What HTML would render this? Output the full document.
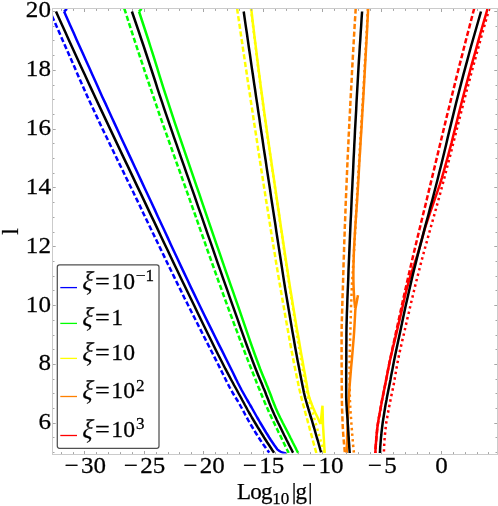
<!DOCTYPE html>
<html><head><meta charset="utf-8"><style>
html,body{margin:0;padding:0;background:#fff;}
svg{display:block;will-change:transform;}
text{font-family:"Liberation Serif",serif;fill:#000;stroke:#000;stroke-width:0.25px;}
</style></head><body>
<svg width="498" height="506" viewBox="0 0 498 506">
<rect width="498" height="506" fill="#fff"/>
<defs><clipPath id="cp"><rect x="52.3" y="8.5" width="445.2" height="445"/></clipPath></defs>
<g clip-path="url(#cp)">
<path d="M52.0 16.0 L55.1 23.0 L58.2 30.1 L61.3 37.1 L64.4 44.2 L67.5 51.2 L70.6 58.3 L73.7 65.3 L76.7 72.3 L79.8 79.4 L82.9 86.4 L86.0 93.5 L89.2 100.5 L92.5 107.5 L95.8 114.6 L99.1 121.6 L102.4 128.7 L105.8 135.7 L109.2 142.8 L112.6 149.8 L116.0 156.8 L119.4 163.9 L122.9 170.9 L126.3 178.0 L129.7 185.0 L133.2 192.0 L136.6 199.1 L140.0 206.1 L143.3 213.2 L146.7 220.2 L150.1 227.3 L153.5 234.3 L156.9 241.3 L160.3 248.4 L163.7 255.4 L167.1 262.5 L170.5 269.5 L174.0 276.6 L177.4 283.6 L180.9 290.6 L184.3 297.7 L187.9 304.7 L191.4 311.8 L195.0 318.8 L198.5 325.8 L202.1 332.9 L205.7 339.9 L209.3 347.0 L212.9 354.0 L216.5 361.1 L220.0 368.1 L223.5 375.1 L225.9 380.0 L227.1 382.5 L228.4 385.0 L229.7 387.5 L231.1 390.0 L232.5 392.5 L234.0 395.0 L235.5 397.5 L237.1 400.0 L238.6 402.5 L240.0 405.0 L241.4 407.5 L242.8 410.0 L244.1 412.5 L245.4 415.0 L246.8 417.5 L248.1 420.0 L249.5 422.5 L251.0 425.0 L252.5 427.5 L254.0 430.0 L255.5 432.5 L257.1 435.0 L258.7 437.5 L260.3 440.0 L262.0 442.5 L263.7 445.0 L265.5 447.5 L267.3 450.0 L269.2 452.5 L269.3 452.6" stroke="#0000ff" stroke-width="2.50" fill="none" stroke-linejoin="round" stroke-dasharray="5.2 2.5" stroke-dashoffset="0.00"/>
<path d="M64.1 11.6 L67.3 18.7 L70.4 25.7 L73.6 32.8 L76.7 39.9 L79.9 46.9 L83.1 54.0 L86.2 61.0 L89.4 68.1 L92.6 75.2 L95.8 82.2 L98.9 89.3 L102.1 96.4 L105.4 103.4 L108.6 110.5 L111.8 117.5 L115.1 124.6 L118.4 131.7 L121.6 138.7 L124.9 145.8 L128.2 152.9 L131.5 159.9 L134.8 167.0 L138.1 174.0 L141.4 181.1 L144.7 188.2 L148.0 195.2 L151.3 202.3 L154.6 209.4 L157.8 216.4 L161.1 223.5 L164.4 230.5 L167.7 237.6 L170.9 244.7 L174.2 251.7 L177.5 258.8 L180.8 265.9 L184.1 272.9 L187.5 280.0 L190.8 287.1 L194.2 294.1 L197.6 301.2 L201.0 308.2 L204.4 315.3 L207.9 322.4 L211.4 329.4 L214.9 336.5 L218.4 343.6 L222.0 350.6 L225.5 357.7 L229.0 364.7 L232.5 371.8 L235.9 378.9 L236.5 380.0 L237.7 382.5 L239.0 385.0 L240.3 387.5 L241.6 390.0 L243.0 392.5 L244.4 395.0 L245.8 397.5 L247.2 400.0 L248.7 402.5 L250.1 405.0 L251.6 407.5 L253.0 410.0 L254.4 412.5 L255.8 415.0 L257.2 417.5 L258.7 420.0 L260.1 422.5 L261.6 425.0 L263.1 427.5 L264.6 430.0 L266.1 432.5 L267.7 435.0 L269.2 437.5 L270.8 440.0 L272.5 442.5 L274.2 445.0 L276.0 447.5 L277.4 449.5 Q280.4 452.6 286 453.5" stroke="#0000ff" stroke-width="2.50" fill="none" stroke-linejoin="round"/>
<path d="M66.90 8.80 L64.10 11.60" stroke="#0000ff" stroke-width="2.50" fill="none" stroke-linejoin="round"/>
<path d="M124.3 8.5 L126.6 15.6 L128.8 22.6 L131.1 29.7 L133.4 36.7 L135.7 43.8 L138.0 50.8 L140.3 57.9 L142.7 64.9 L145.0 72.0 L147.4 79.0 L149.8 86.1 L152.2 93.1 L154.6 100.2 L157.0 107.2 L159.4 114.3 L161.9 121.3 L164.4 128.4 L166.9 135.4 L169.4 142.5 L171.9 149.5 L174.4 156.6 L176.9 163.7 L179.5 170.7 L182.0 177.8 L184.5 184.8 L187.0 191.9 L189.5 198.9 L192.0 206.0 L194.5 213.0 L197.0 220.1 L199.4 227.1 L201.9 234.2 L204.4 241.2 L206.8 248.3 L209.3 255.3 L211.8 262.4 L214.3 269.4 L216.8 276.5 L219.3 283.5 L221.9 290.6 L224.4 297.6 L227.0 304.7 L229.6 311.8 L232.2 318.8 L234.8 325.9 L237.5 332.9 L240.1 340.0 L242.8 347.0 L245.5 354.1 L248.2 361.1 L251.0 368.2 L253.8 375.2 L255.7 380.0 L256.6 382.5 L257.6 385.0 L258.6 387.5 L259.7 390.0 L260.7 392.5 L261.7 395.0 L262.7 397.5 L263.8 400.0 L264.8 402.5 L265.9 405.0 L267.0 407.5 L268.1 410.0 L269.2 412.5 L270.4 415.0 L271.5 417.5 L272.7 420.0 L273.9 422.5 L275.1 425.0 L276.3 427.5 L277.5 430.0 L278.7 432.5 L280.0 435.0 L281.2 437.5 L282.4 440.0 L283.6 442.5 L284.8 445.0 L286.0 447.5 L287.2 450.0 L288.5 452.5 L288.6 452.8" stroke="#00ff00" stroke-width="2.50" fill="none" stroke-linejoin="round" stroke-dasharray="5.2 2.5" stroke-dashoffset="0.00"/>
<path d="M139.0 11.5 L141.3 18.5 L143.6 25.5 L145.9 32.5 L148.2 39.5 L150.4 46.5 L152.7 53.6 L154.9 60.6 L157.1 67.6 L159.2 74.6 L161.4 81.6 L163.6 88.6 L165.9 95.6 L168.2 102.6 L170.5 109.6 L172.8 116.6 L175.1 123.7 L177.5 130.7 L179.9 137.7 L182.3 144.7 L184.7 151.7 L187.1 158.7 L189.5 165.7 L191.9 172.7 L194.3 179.7 L196.7 186.7 L199.2 193.7 L201.6 200.8 L204.0 207.8 L206.4 214.8 L208.8 221.8 L211.2 228.8 L213.6 235.8 L216.0 242.8 L218.5 249.8 L220.9 256.8 L223.3 263.8 L225.7 270.9 L228.2 277.9 L230.6 284.9 L233.1 291.9 L235.5 298.9 L238.0 305.9 L240.4 312.9 L242.8 319.9 L245.2 326.9 L247.6 333.9 L250.0 340.9 L252.5 348.0 L255.0 355.0 L257.6 362.0 L260.2 369.0 L263.0 376.0 L264.7 380.0 L265.7 382.5 L266.7 385.0 L267.8 387.5 L268.7 390.0 L269.7 392.5 L270.7 395.0 L271.6 397.5 L272.5 400.0 L273.5 402.5 L274.5 405.0 L275.5 407.5 L276.6 410.0 L277.7 412.5 L278.9 415.0 L280.1 417.5 L281.4 420.0 L282.6 422.5 L283.9 425.0 L285.2 427.5 L286.5 430.0 L287.8 432.5 L289.1 435.0 L290.3 437.5 L291.6 440.0 L292.8 442.5 L294.1 445.0 L295.4 447.5 L296.6 450.0 L297.9 452.5 L298.2 453.1" stroke="#00ff00" stroke-width="2.50" fill="none" stroke-linejoin="round"/>
<path d="M141.60 8.80 L139.00 11.50" stroke="#00ff00" stroke-width="2.50" fill="none" stroke-linejoin="round"/>
<path d="M237.1 8.5 L238.1 15.6 L239.2 22.6 L240.2 29.7 L241.2 36.7 L242.3 43.8 L243.3 50.8 L244.4 57.9 L245.4 64.9 L246.5 72.0 L247.5 79.1 L248.6 86.1 L249.7 93.2 L250.7 100.2 L251.8 107.3 L252.9 114.3 L253.9 121.4 L255.0 128.4 L256.1 135.5 L257.2 142.6 L258.2 149.6 L259.3 156.7 L260.4 163.7 L261.5 170.8 L262.6 177.8 L263.7 184.9 L264.8 191.9 L265.9 199.0 L267.1 206.1 L268.2 213.1 L269.3 220.2 L270.4 227.2 L271.5 234.3 L272.7 241.3 L273.8 248.4 L275.0 255.4 L276.1 262.5 L277.3 269.6 L278.5 276.6 L279.7 283.7 L280.9 290.7 L282.1 297.8 L283.4 304.8 L284.6 311.9 L285.8 318.9 L287.1 326.0 L288.4 333.1 L289.6 340.1 L290.9 347.2 L292.3 354.2 L293.6 361.3 L295.0 368.3 L296.5 375.4 L297.4 380.0 L298.0 382.5 L298.5 385.0 L299.1 387.5 L299.6 390.0 L300.2 392.5 L300.8 395.0 L301.4 397.5 L302.0 400.0 L302.7 402.5 L303.3 405.0 L304.0 407.5 L304.7 410.0 L305.3 412.5 L306.0 415.0 L306.7 417.5 L307.4 420.0 L308.0 422.5 L308.7 425.0 L309.4 427.5 L310.0 430.0 L310.7 432.5 L311.4 435.0 L312.1 437.5 L312.7 440.0 L313.4 442.5 L314.1 445.0 L314.8 447.5 L315.5 450.0 L316.2 452.5 L316.3 453.0" stroke="#ffff00" stroke-width="2.50" fill="none" stroke-linejoin="round" stroke-dasharray="5.2 2.5" stroke-dashoffset="0.00"/>
<path d="M251.0 8.5 L251.8 15.6 L252.6 22.6 L253.5 29.7 L254.3 36.7 L255.2 43.8 L256.1 50.8 L256.9 57.9 L257.8 64.9 L258.7 72.0 L259.6 79.1 L260.6 86.1 L261.5 93.2 L262.4 100.2 L263.4 107.3 L264.3 114.3 L265.3 121.4 L266.3 128.4 L267.3 135.5 L268.4 142.6 L269.4 149.6 L270.4 156.7 L271.5 163.7 L272.5 170.8 L273.5 177.8 L274.6 184.9 L275.6 191.9 L276.7 199.0 L277.7 206.1 L278.7 213.1 L279.7 220.2 L280.8 227.2 L281.8 234.3 L282.8 241.3 L283.8 248.4 L284.9 255.4 L285.9 262.5 L287.0 269.6 L288.0 276.6 L289.1 283.7 L290.2 290.7 L291.3 297.8 L292.4 304.8 L293.5 311.9 L294.6 318.9 L295.7 326.0 L296.8 333.1 L297.9 340.1 L299.1 347.2 L300.2 354.2 L301.4 361.3 L302.6 368.3 L303.8 375.4 L304.6 380.0 L305.1 382.5 L305.5 385.0 L305.9 387.5 L306.4 390.0 L306.9 392.5 L307.4 395.0 L308.0 397.5 L308.7 400.0 L309.5 402.5 L310.3 405.0 L311.1 407.5 L312.0 410.0 L312.7 412.5 L313.4 415.0 L314.1 417.5 L314.8 420.0 L315.5 422.5 L316.2 425.0 L316.9 427.5 L317.6 430.0 L318.3 432.5 L319.0 435.0 L319.8 437.5 L320.5 440.0 L321.2 442.5 L321.9 445.0 L322.6 447.5 L323.2 450.0 L323.9 452.5 L324.0 453.0" stroke="#ffff00" stroke-width="2.50" fill="none" stroke-linejoin="round" stroke-dasharray="2.4 3.2" stroke-dashoffset="0.00"/>
<path d="M251.2 8.5 L252.0 15.5 L252.8 22.6 L253.7 29.6 L254.5 36.7 L255.4 43.7 L256.3 50.8 L257.1 57.8 L258.0 64.9 L258.9 71.9 L259.8 78.9 L260.7 86.0 L261.7 93.0 L262.6 100.1 L263.6 107.1 L264.5 114.2 L265.5 121.2 L266.5 128.2 L267.5 135.3 L268.5 142.3 L269.5 149.4 L270.6 156.4 L271.6 163.5 L272.6 170.5 L273.7 177.6 L274.7 184.6 L275.8 191.6 L276.8 198.7 L277.8 205.7 L278.9 212.8 L279.9 219.8 L280.9 226.9 L282.0 233.9 L283.0 241.0 L284.1 248.0 L285.1 255.0 L286.2 262.1 L287.3 269.1 L288.3 276.2 L289.4 283.2 L290.5 290.3 L291.7 297.3 L292.8 304.4 L294.0 311.4 L295.1 318.4 L296.3 325.5 L297.5 332.5 L298.8 339.6 L300.0 346.6 L301.2 353.7 L302.5 360.7 L303.7 367.7 L305.0 374.8 L305.9 380.0 L306.4 382.5 L306.8 385.0 L307.2 387.5 L307.6 390.0 L308.1 392.5 L308.6 395.0 L309.3 397.5 L310.1 400.0 L311.1 402.5 L312.0 405.0 L313.0 407.5 L314.1 410.0 L315.2 412.5 L316.4 415.0 L317.6 417.5 L318.7 420.0 L319.8 422.5 L320.5 424.1" stroke="#ffff00" stroke-width="2.50" fill="none" stroke-linejoin="round"/>
<path d="M320.50 424.10 L322.50 405.70 L323.00 425.00 L324.70 453.10" stroke="#ffff00" stroke-width="2.50" fill="none" stroke-linejoin="miter"/>
<path d="M355.7 8.5 L355.3 15.6 L354.8 22.6 L354.4 29.7 L354.0 36.7 L353.6 43.8 L353.2 50.8 L352.8 57.9 L352.4 64.9 L352.0 72.0 L351.7 79.1 L351.3 86.1 L350.9 93.2 L350.5 100.2 L350.2 107.3 L349.8 114.3 L349.4 121.4 L349.1 128.4 L348.7 135.5 L348.4 142.6 L348.1 149.6 L347.7 156.7 L347.4 163.7 L347.1 170.8 L346.8 177.8 L346.5 184.9 L346.2 191.9 L345.9 199.0 L345.6 206.1 L345.4 213.1 L345.1 220.2 L344.8 227.2 L344.6 234.3 L344.3 241.3 L344.1 248.4 L343.9 255.4 L343.6 262.5 L343.4 269.6 L343.2 276.6 L343.0 283.7 L342.8 290.7 L342.5 297.8 L342.3 304.8 L342.1 311.9 L341.9 318.9 L341.7 326.0 L341.6 333.1 L341.6 340.1 L341.6 347.2 L341.6 354.2 L341.6 361.3 L341.7 368.3 L341.7 375.4 L341.7 380.0 L341.7 382.5 L341.7 385.0 L341.8 387.5 L341.8 390.0 L341.8 392.5 L341.8 395.0 L341.8 397.5 L341.9 400.0 L341.9 402.5 L342.0 405.0 L342.0 407.5 L342.1 410.0 L342.2 412.5 L342.3 415.0 L342.4 417.5 L342.5 420.0 L342.6 422.5 L342.7 425.0 L342.8 427.5 L343.0 430.0 L343.1 432.5 L343.3 435.0 L343.5 437.5 L343.7 440.0 L343.9 442.5 L344.1 445.0 L344.4 447.5 L344.6 450.0 L344.8 452.5 L344.9 453.0" stroke="#ff8000" stroke-width="2.50" fill="none" stroke-linejoin="round" stroke-dasharray="5.2 2.5" stroke-dashoffset="0.00"/>
<path d="M367.9 8.5 L367.5 15.6 L367.2 22.6 L366.8 29.7 L366.4 36.7 L366.0 43.8 L365.6 50.8 L365.2 57.9 L364.8 64.9 L364.5 72.0 L364.1 79.1 L363.6 86.1 L363.2 93.2 L362.8 100.2 L362.4 107.3 L362.0 114.3 L361.5 121.4 L361.1 128.4 L360.7 135.5 L360.2 142.6 L359.8 149.6 L359.4 156.7 L359.0 163.7 L358.5 170.8 L358.1 177.8 L357.7 184.9 L357.3 191.9 L356.9 199.0 L356.5 206.1 L356.1 213.1 L355.8 220.2 L355.4 227.2 L355.0 234.3 L354.6 241.3 L354.2 248.4 L353.8 255.4 L353.4 262.5 L352.9 269.6 L352.5 276.6 L352.0 283.7 L351.7 290.7 L351.4 297.8 L351.1 304.8 L350.9 311.9 L350.7 318.9 L350.5 326.0 L350.3 333.1 L350.1 340.1 L349.9 347.2 L349.7 354.2 L349.6 361.3 L349.5 368.3 L349.5 375.4 L349.6 380.0 L349.6 382.5 L349.6 385.0 L349.7 387.5 L349.7 390.0 L349.8 392.5 L349.8 395.0 L349.9 397.5 L349.9 400.0 L350.1 402.5 L350.2 405.0 L350.3 407.5 L350.5 410.0 L350.6 412.5 L350.8 415.0 L351.0 417.5 L351.2 420.0 L351.3 422.5 L351.5 425.0 L351.7 427.5 L351.9 430.0 L352.1 432.5 L352.3 435.0 L352.5 437.5 L352.7 440.0 L352.9 442.5 L353.1 445.0 L353.4 447.5 L353.6 450.0 L353.9 452.5 L353.9 453.0" stroke="#ff8000" stroke-width="2.50" fill="none" stroke-linejoin="round" stroke-dasharray="2.4 3.2" stroke-dashoffset="0.00"/>
<path d="M368.2 8.5 L367.8 15.6 L367.4 22.8 L367.1 29.9 L366.7 37.0 L366.3 44.2 L365.9 51.3 L365.5 58.4 L365.1 65.5 L364.7 72.7 L364.3 79.8 L363.9 86.9 L363.5 94.1 L363.1 101.2 L362.6 108.3 L362.2 115.5 L361.8 122.6 L361.4 129.7 L360.9 136.9 L360.5 144.0 L360.1 151.1 L359.6 158.2 L359.2 165.4 L358.8 172.5 L358.4 179.6 L358.0 186.8 L357.5 193.9 L357.1 201.0 L356.6 208.2 L356.1 215.3 L355.6 222.4 L355.1 229.6 L354.7 236.7 L354.3 243.8 L353.9 251.0 L353.7 258.1 L353.5 265.2 L353.4 272.3 L353.4 279.5 L353.6 286.6 L353.9 293.7 L354.4 300.9 L355.1 308.0" stroke="#ff8000" stroke-width="2.50" fill="none" stroke-linejoin="round"/>
<path d="M355.10 308.00 L358.00 295.30 L355.40 309.00" stroke="#ff8000" stroke-width="2.50" fill="none" stroke-linejoin="miter"/>
<path d="M355.4 309.0 L355.0 316.2 L354.6 323.4 L354.2 330.6 L353.7 337.8 L353.1 345.0 L352.5 352.2 L351.9 359.4 L351.2 366.6 L350.6 373.8 L350.1 380.0 L349.9 382.5 L349.7 385.0 L349.5 387.5 L349.4 390.0 L349.2 392.5 L349.1 395.0 L348.9 397.5 L348.8 400.0 L348.7 402.5 L348.5 405.0 L348.4 407.5 L348.3 410.0 L348.2 412.5 L348.1 415.0 L347.9 417.5 L347.8 420.0 L347.7 422.5 L347.6 425.0 L347.5 427.5 L347.4 430.0 L347.3 432.5 L347.2 435.0 L347.1 437.5 L347.1 440.0 L347.0 442.5 L346.9 445.0 L346.8 447.5 L346.8 450.0 L346.7 452.5 L346.7 453.0" stroke="#ff8000" stroke-width="2.50" fill="none" stroke-linejoin="round"/>
<path d="M474.2 8.5 L472.3 15.6 L470.5 22.6 L468.7 29.7 L466.8 36.7 L465.0 43.8 L463.2 50.8 L461.4 57.9 L459.6 64.9 L457.8 72.0 L456.0 79.1 L454.3 86.1 L452.5 93.2 L450.8 100.2 L449.1 107.3 L447.3 114.3 L445.6 121.4 L443.9 128.4 L442.2 135.5 L440.5 142.6 L438.8 149.6 L437.1 156.7 L435.4 163.7 L433.7 170.8 L432.0 177.8 L430.3 184.9 L428.6 191.9 L426.9 199.0 L425.2 206.1 L423.4 213.1 L421.7 220.2 L420.0 227.2 L418.3 234.3 L416.6 241.3 L414.9 248.4 L413.2 255.4 L411.6 262.5 L409.9 269.6 L408.3 276.6 L406.7 283.7 L405.1 290.7 L403.5 297.8 L402.0 304.8 L400.4 311.9 L398.9 318.9 L397.4 326.0 L395.8 333.1 L394.3 340.1 L392.7 347.2 L391.2 354.2 L389.7 361.3 L388.3 368.3 L387.0 375.4 L386.1 380.0 L385.6 382.5 L385.1 385.0 L384.6 387.5 L384.1 390.0 L383.6 392.5 L383.1 395.0 L382.6 397.5 L382.1 400.0 L381.6 402.5 L381.2 405.0 L380.7 407.5 L380.3 410.0 L379.8 412.5 L379.4 415.0 L378.9 417.5 L378.5 420.0 L378.1 422.5 L377.7 425.0 L377.4 427.5 L377.1 430.0 L376.9 432.5 L376.6 435.0 L376.4 437.5 L376.2 440.0 L376.0 442.5 L375.8 445.0 L375.6 447.5 L375.5 450.0 L375.4 452.5 L375.4 453.0" stroke="#ff0000" stroke-width="2.50" fill="none" stroke-linejoin="round" stroke-dasharray="5.2 2.5" stroke-dashoffset="0.00"/>
<path d="M489.3 8.5 L487.3 15.6 L485.3 22.6 L483.3 29.7 L481.3 36.7 L479.4 43.8 L477.4 50.8 L475.5 57.9 L473.6 64.9 L471.6 72.0 L469.8 79.1 L467.9 86.1 L466.0 93.2 L464.2 100.2 L462.4 107.3 L460.6 114.3 L458.8 121.4 L457.0 128.4 L455.2 135.5 L453.4 142.6 L451.7 149.6 L449.9 156.7 L448.0 163.7 L446.2 170.8 L444.4 177.8 L442.5 184.9 L440.6 191.9 L438.7 199.0 L436.7 206.1 L434.8 213.1 L432.8 220.2 L430.8 227.2 L428.8 234.3 L426.9 241.3 L424.9 248.4 L423.0 255.4 L421.1 262.5 L419.3 269.6 L417.5 276.6 L415.7 283.7 L414.0 290.7 L412.3 297.8 L410.6 304.8 L409.0 311.9 L407.3 318.9 L405.7 326.0 L404.1 333.1 L402.4 340.1 L400.8 347.2 L399.2 354.2 L397.8 361.3 L396.5 368.3 L395.3 375.4 L394.5 380.0 L394.1 382.5 L393.6 385.0 L393.1 387.5 L392.6 390.0 L392.1 392.5 L391.5 395.0 L391.0 397.5 L390.5 400.0 L390.0 402.5 L389.5 405.0 L389.0 407.5 L388.5 410.0 L388.1 412.5 L387.6 415.0 L387.2 417.5 L386.7 420.0 L386.3 422.5 L386.0 425.0 L385.7 427.5 L385.4 430.0 L385.2 432.5 L384.9 435.0 L384.7 437.5 L384.5 440.0 L384.4 442.5 L384.2 445.0 L384.1 447.5 L384.0 450.0 L383.9 452.5 L383.9 453.0" stroke="#ff0000" stroke-width="2.50" fill="none" stroke-linejoin="round" stroke-dasharray="2.4 3.2" stroke-dashoffset="0.00"/>
<path d="M487.6 8.5 L485.6 15.6 L483.5 22.6 L481.5 29.7 L479.5 36.7 L477.5 43.8 L475.6 50.8 L473.6 57.9 L471.6 64.9 L469.7 72.0 L467.8 79.1 L465.9 86.1 L464.0 93.2 L462.2 100.2 L460.4 107.3 L458.6 114.3 L456.9 121.4 L455.1 128.4 L453.3 135.5 L451.6 142.6 L449.7 149.6 L447.8 156.7 L445.9 163.7 L443.9 170.8 L441.9 177.8 L439.7 184.9 L437.3 191.9 L434.8 199.0 L432.4 206.1 L429.9 213.1 L427.6 220.2 L425.3 227.2 L423.2 234.3 L421.3 241.3 L419.4 248.4 L417.3 255.4 L414.9 262.5 L412.5 269.6 L410.2 276.6 L408.2 283.7 L406.3 290.7 L404.6 297.8 L403.0 304.8 L401.4 311.9 L399.8 318.9 L398.1 326.0 L396.5 333.1 L394.8 340.1 L393.0 347.2 L391.4 354.2 L389.8 361.3 L388.4 368.3 L387.0 375.4 L386.1 380.0 L385.6 382.5 L385.1 385.0 L384.6 387.5 L384.1 390.0 L383.6 392.5 L383.1 395.0 L382.6 397.5 L382.1 400.0 L381.6 402.5 L381.2 405.0 L380.7 407.5 L380.3 410.0 L379.8 412.5 L379.4 415.0 L378.9 417.5 L378.5 420.0 L378.1 422.5 L377.7 425.0 L377.4 427.5 L377.1 430.0 L376.9 432.5 L376.6 435.0 L376.4 437.5 L376.2 440.0 L376.0 442.5 L375.8 445.0 L375.6 447.5 L375.5 450.0 L375.4 452.5 L375.4 453.0" stroke="#ff0000" stroke-width="2.50" fill="none" stroke-linejoin="round"/>
<path d="M56.0 11.5 L59.1 18.5 L62.3 25.5 L65.5 32.5 L68.6 39.5 L71.8 46.5 L75.0 53.5 L78.2 60.5 L81.4 67.5 L84.7 74.5 L87.9 81.5 L91.2 88.6 L94.4 95.6 L97.7 102.6 L101.0 109.6 L104.3 116.6 L107.6 123.6 L110.9 130.6 L114.2 137.6 L117.5 144.6 L120.8 151.6 L124.1 158.6 L127.5 165.6 L130.8 172.6 L134.1 179.6 L137.4 186.6 L140.8 193.6 L144.1 200.6 L147.4 207.6 L150.7 214.6 L154.1 221.6 L157.4 228.6 L160.7 235.7 L164.0 242.7 L167.4 249.7 L170.7 256.7 L174.0 263.7 L177.4 270.7 L180.7 277.7 L184.1 284.7 L187.5 291.7 L190.9 298.7 L194.3 305.7 L197.6 312.7 L201.0 319.7 L204.4 326.7 L207.8 333.7 L211.3 340.7 L214.7 347.7 L218.2 354.7 L221.8 361.7 L225.3 368.7 L229.0 375.7 L231.3 380.0 L232.7 382.5 L234.0 385.0 L235.4 387.5 L236.8 390.0 L238.1 392.5 L239.5 395.0 L240.9 397.5 L242.2 400.0 L243.6 402.5 L244.9 405.0 L246.3 407.5 L247.6 410.0 L249.0 412.5 L250.5 415.0 L251.9 417.5 L253.4 420.0 L254.9 422.5 L256.4 425.0 L257.9 427.5 L259.5 430.0 L261.0 432.5 L262.6 435.0 L264.1 437.5 L265.7 440.0 L267.3 442.5 L269.0 445.0 L270.6 447.5 L272.2 450.0 L273.9 452.5 L274.1 452.8" stroke="#000" stroke-width="2.50" fill="none" stroke-linejoin="round"/>
<path d="M131.9 11.5 L134.3 18.5 L136.7 25.5 L139.1 32.5 L141.4 39.5 L143.8 46.5 L146.1 53.5 L148.4 60.5 L150.7 67.5 L153.0 74.5 L155.3 81.5 L157.5 88.6 L159.8 95.6 L162.2 102.6 L164.5 109.6 L166.9 116.6 L169.3 123.6 L171.7 130.6 L174.1 137.6 L176.6 144.6 L179.0 151.6 L181.4 158.6 L183.9 165.6 L186.3 172.6 L188.8 179.6 L191.2 186.6 L193.7 193.6 L196.1 200.6 L198.5 207.6 L201.0 214.6 L203.4 221.6 L205.8 228.6 L208.2 235.7 L210.7 242.7 L213.1 249.7 L215.5 256.7 L217.9 263.7 L220.4 270.7 L222.8 277.7 L225.3 284.7 L227.8 291.7 L230.2 298.7 L232.7 305.7 L235.2 312.7 L237.7 319.7 L240.1 326.7 L242.6 333.7 L245.1 340.7 L247.7 347.7 L250.3 354.7 L252.9 361.7 L255.6 368.7 L258.4 375.7 L260.2 380.0 L261.3 382.5 L262.3 385.0 L263.3 387.5 L264.4 390.0 L265.4 392.5 L266.3 395.0 L267.3 397.5 L268.3 400.0 L269.2 402.5 L270.2 405.0 L271.2 407.5 L272.3 410.0 L273.4 412.5 L274.5 415.0 L275.7 417.5 L276.8 420.0 L278.0 422.5 L279.3 425.0 L280.5 427.5 L281.7 430.0 L282.9 432.5 L284.1 435.0 L285.4 437.5 L286.6 440.0 L287.9 442.5 L289.1 445.0 L290.4 447.5 L291.7 450.0 L292.9 452.5 L293.1 452.8" stroke="#000" stroke-width="2.50" fill="none" stroke-linejoin="round"/>
<path d="M243.7 11.5 L244.7 18.6 L245.7 25.7 L246.8 32.8 L247.8 39.9 L248.8 47.0 L249.9 54.2 L250.9 61.3 L251.9 68.4 L253.0 75.5 L254.0 82.6 L255.1 89.7 L256.1 96.8 L257.2 103.9 L258.2 111.0 L259.3 118.1 L260.3 125.3 L261.4 132.4 L262.5 139.5 L263.5 146.6 L264.6 153.7 L265.7 160.8 L266.7 167.9 L267.8 175.0 L268.9 182.1 L270.0 189.2 L271.0 196.4 L272.1 203.5 L273.2 210.6 L274.3 217.7 L275.4 224.8 L276.4 231.9 L277.5 239.0 L278.6 246.1 L279.7 253.2 L280.8 260.3 L281.9 267.4 L283.0 274.6 L284.1 281.7 L285.2 288.8 L286.4 295.9 L287.6 303.0 L288.8 310.1 L290.0 317.2 L291.2 324.3 L292.4 331.4 L293.7 338.5 L294.9 345.7 L296.2 352.8 L297.5 359.9 L298.9 367.0 L300.2 374.1 L301.4 380.0 L301.9 382.5 L302.4 385.0 L302.9 387.5 L303.4 390.0 L303.9 392.5 L304.5 395.0 L305.1 397.5 L305.8 400.0 L306.5 402.5 L307.2 405.0 L308.0 407.5 L308.7 410.0 L309.5 412.5 L310.2 415.0 L311.0 417.5 L311.8 420.0 L312.5 422.5 L313.2 425.0 L314.0 427.5 L314.7 430.0 L315.4 432.5 L316.1 435.0 L316.8 437.5 L317.6 440.0 L318.3 442.5 L319.0 445.0 L319.7 447.5 L320.4 450.0 L321.1 452.3" stroke="#000" stroke-width="2.50" fill="none" stroke-linejoin="round"/>
<path d="M362.1 11.5 L361.6 18.5 L361.2 25.5 L360.7 32.5 L360.3 39.5 L359.8 46.5 L359.4 53.5 L358.9 60.6 L358.5 67.6 L358.1 74.6 L357.7 81.6 L357.3 88.6 L356.9 95.6 L356.5 102.6 L356.2 109.6 L355.8 116.6 L355.4 123.6 L355.0 130.6 L354.7 137.6 L354.3 144.7 L354.0 151.7 L353.6 158.7 L353.3 165.7 L353.0 172.7 L352.6 179.7 L352.3 186.7 L351.9 193.7 L351.6 200.7 L351.3 207.7 L351.0 214.7 L350.6 221.7 L350.3 228.7 L350.0 235.8 L349.7 242.8 L349.4 249.8 L349.1 256.8 L348.8 263.8 L348.5 270.8 L348.3 277.8 L348.0 284.8 L347.7 291.8 L347.4 298.8 L347.2 305.8 L346.9 312.8 L346.7 319.8 L346.5 326.9 L346.4 333.9 L346.4 340.9 L346.3 347.9 L346.3 354.9 L346.3 361.9 L346.2 368.9 L346.2 375.9 L346.2 380.0 L346.2 382.5 L346.2 385.0 L346.2 387.5 L346.2 390.0 L346.2 392.5 L346.2 395.0 L346.2 397.5 L346.3 400.0 L346.4 402.5 L346.5 405.0 L346.7 407.5 L346.8 410.0 L347.0 412.5 L347.2 415.0 L347.4 417.5 L347.6 420.0 L347.7 422.5 L347.9 425.0 L348.1 427.5 L348.2 430.0 L348.4 432.5 L348.5 435.0 L348.7 437.5 L348.8 440.0 L349.0 442.5 L349.2 445.0 L349.3 447.5 L349.5 450.0 L349.7 452.5 L349.7 453.0" stroke="#000" stroke-width="2.50" fill="none" stroke-linejoin="round"/>
<path d="M481.0 11.5 L479.0 18.5 L477.0 25.5 L475.0 32.5 L473.0 39.5 L471.0 46.5 L469.1 53.5 L467.2 60.6 L465.3 67.6 L463.4 74.6 L461.6 81.6 L459.8 88.6 L458.0 95.6 L456.2 102.6 L454.5 109.6 L452.8 116.6 L451.1 123.6 L449.4 130.6 L447.7 137.6 L446.1 144.7 L444.4 151.7 L442.7 158.7 L441.0 165.7 L439.2 172.7 L437.5 179.7 L435.7 186.7 L433.9 193.7 L432.1 200.7 L430.2 207.7 L428.4 214.7 L426.5 221.7 L424.6 228.7 L422.8 235.8 L420.9 242.8 L419.1 249.8 L417.3 256.8 L415.6 263.8 L413.8 270.8 L412.1 277.8 L410.5 284.8 L408.9 291.8 L407.3 298.8 L405.7 305.8 L404.2 312.8 L402.7 319.8 L401.2 326.9 L399.7 333.9 L398.2 340.9 L396.7 347.9 L395.2 354.9 L393.8 361.9 L392.5 368.9 L391.1 375.9 L390.4 380.0 L389.9 382.5 L389.4 385.0 L388.9 387.5 L388.4 390.0 L387.9 392.5 L387.4 395.0 L386.9 397.5 L386.5 400.0 L386.0 402.5 L385.5 405.0 L385.1 407.5 L384.7 410.0 L384.3 412.5 L383.9 415.0 L383.5 417.5 L383.1 420.0 L382.7 422.5 L382.4 425.0 L382.1 427.5 L381.8 430.0 L381.5 432.5 L381.3 435.0 L381.0 437.5 L380.8 440.0 L380.6 442.5 L380.4 445.0 L380.2 447.5 L380.1 450.0 L379.9 452.5 L379.9 453.0" stroke="#000" stroke-width="2.50" fill="none" stroke-linejoin="round"/>
</g>
<path d="M61.50 454.50 v-2.40 M61.50 8.50 v2.40 M73.50 454.50 v-2.40 M73.50 8.50 v2.40 M84.50 454.50 v-3.50 M84.50 8.50 v3.50 M96.50 454.50 v-2.40 M96.50 8.50 v2.40 M108.50 454.50 v-2.40 M108.50 8.50 v2.40 M120.50 454.50 v-2.40 M120.50 8.50 v2.40 M132.50 454.50 v-2.40 M132.50 8.50 v2.40 M144.50 454.50 v-3.50 M144.50 8.50 v3.50 M156.50 454.50 v-2.40 M156.50 8.50 v2.40 M168.50 454.50 v-2.40 M168.50 8.50 v2.40 M179.50 454.50 v-2.40 M179.50 8.50 v2.40 M191.50 454.50 v-2.40 M191.50 8.50 v2.40 M203.50 454.50 v-3.50 M203.50 8.50 v3.50 M215.50 454.50 v-2.40 M215.50 8.50 v2.40 M227.50 454.50 v-2.40 M227.50 8.50 v2.40 M239.50 454.50 v-2.40 M239.50 8.50 v2.40 M251.50 454.50 v-2.40 M251.50 8.50 v2.40 M263.50 454.50 v-3.50 M263.50 8.50 v3.50 M275.50 454.50 v-2.40 M275.50 8.50 v2.40 M286.50 454.50 v-2.40 M286.50 8.50 v2.40 M298.50 454.50 v-2.40 M298.50 8.50 v2.40 M310.50 454.50 v-2.40 M310.50 8.50 v2.40 M322.50 454.50 v-3.50 M322.50 8.50 v3.50 M334.50 454.50 v-2.40 M334.50 8.50 v2.40 M346.50 454.50 v-2.40 M346.50 8.50 v2.40 M358.50 454.50 v-2.40 M358.50 8.50 v2.40 M370.50 454.50 v-2.40 M370.50 8.50 v2.40 M381.50 454.50 v-3.50 M381.50 8.50 v3.50 M393.50 454.50 v-2.40 M393.50 8.50 v2.40 M405.50 454.50 v-2.40 M405.50 8.50 v2.40 M417.50 454.50 v-2.40 M417.50 8.50 v2.40 M429.50 454.50 v-2.40 M429.50 8.50 v2.40 M441.50 454.50 v-3.50 M441.50 8.50 v3.50 M453.50 454.50 v-2.40 M453.50 8.50 v2.40 M465.50 454.50 v-2.40 M465.50 8.50 v2.40 M477.50 454.50 v-2.40 M477.50 8.50 v2.40 M488.50 454.50 v-2.40 M488.50 8.50 v2.40 M52.50 452.50 h2.00 M497.50 452.50 h-2.00 M52.50 437.50 h2.00 M497.50 437.50 h-2.00 M52.50 423.50 h3.20 M497.50 423.50 h-3.20 M52.50 408.50 h2.00 M497.50 408.50 h-2.00 M52.50 393.50 h2.00 M497.50 393.50 h-2.00 M52.50 379.50 h2.00 M497.50 379.50 h-2.00 M52.50 364.50 h3.20 M497.50 364.50 h-3.20 M52.50 349.50 h2.00 M497.50 349.50 h-2.00 M52.50 335.50 h2.00 M497.50 335.50 h-2.00 M52.50 320.50 h2.00 M497.50 320.50 h-2.00 M52.50 305.50 h3.20 M497.50 305.50 h-3.20 M52.50 290.50 h2.00 M497.50 290.50 h-2.00 M52.50 276.50 h2.00 M497.50 276.50 h-2.00 M52.50 261.50 h2.00 M497.50 261.50 h-2.00 M52.50 246.50 h3.20 M497.50 246.50 h-3.20 M52.50 232.50 h2.00 M497.50 232.50 h-2.00 M52.50 217.50 h2.00 M497.50 217.50 h-2.00 M52.50 202.50 h2.00 M497.50 202.50 h-2.00 M52.50 187.50 h3.20 M497.50 187.50 h-3.20 M52.50 173.50 h2.00 M497.50 173.50 h-2.00 M52.50 158.50 h2.00 M497.50 158.50 h-2.00 M52.50 143.50 h2.00 M497.50 143.50 h-2.00 M52.50 129.50 h3.20 M497.50 129.50 h-3.20 M52.50 114.50 h2.00 M497.50 114.50 h-2.00 M52.50 99.50 h2.00 M497.50 99.50 h-2.00 M52.50 85.50 h2.00 M497.50 85.50 h-2.00 M52.50 70.50 h3.20 M497.50 70.50 h-3.20 M52.50 55.50 h2.00 M497.50 55.50 h-2.00 M52.50 40.50 h2.00 M497.50 40.50 h-2.00 M52.50 26.50 h2.00 M497.50 26.50 h-2.00 M52.50 11.50 h3.20 M497.50 11.50 h-3.20" stroke="#a6a6a6" stroke-width="1" fill="none"/>
<rect x="52.50" y="8.50" width="445.00" height="446.00" fill="none" stroke="#cbcbcb" stroke-width="1"/>
<rect x="57.3" y="264.8" width="101.7" height="183.5" rx="2.2" ry="2.2" fill="#fff" stroke="#505050" stroke-width="1.25"/>
<path d="M60.3 287.60 H77" stroke="#0000ff" stroke-width="1.3" fill="none"/>
<text transform="translate(81.20,289.70) skewX(-12) scale(0.88,1)" font-size="27">ξ</text>
<text transform="translate(95.00,288.60) scale(1.130,1)" text-anchor="start" font-size="23.20">=</text>
<text transform="translate(111.30,288.60) scale(1.020,1)" text-anchor="start" font-size="23.20">10</text>
<text transform="translate(135.80,281.00) scale(1.120,1)" text-anchor="start" font-size="15.80">−</text>
<text transform="translate(145.60,281.00) scale(1.080,1)" text-anchor="start" font-size="15.80">1</text>
<path d="M60.3 323.40 H77" stroke="#00ff00" stroke-width="1.3" fill="none"/>
<text transform="translate(81.20,325.60) skewX(-12) scale(0.88,1)" font-size="27">ξ</text>
<text transform="translate(95.00,324.50) scale(1.130,1)" text-anchor="start" font-size="23.20">=</text>
<text transform="translate(111.30,324.50) scale(1.020,1)" text-anchor="start" font-size="23.20">1</text>
<path d="M60.3 358.40 H77" stroke="#ffff00" stroke-width="1.3" fill="none"/>
<text transform="translate(81.20,360.70) skewX(-12) scale(0.88,1)" font-size="27">ξ</text>
<text transform="translate(95.00,359.60) scale(1.130,1)" text-anchor="start" font-size="23.20">=</text>
<text transform="translate(111.30,359.60) scale(1.020,1)" text-anchor="start" font-size="23.20">10</text>
<path d="M60.3 396.50 H77" stroke="#ff8000" stroke-width="1.3" fill="none"/>
<text transform="translate(81.20,399.30) skewX(-12) scale(0.88,1)" font-size="27">ξ</text>
<text transform="translate(95.00,398.20) scale(1.130,1)" text-anchor="start" font-size="23.20">=</text>
<text transform="translate(111.30,398.20) scale(1.020,1)" text-anchor="start" font-size="23.20">10</text>
<text transform="translate(136.00,390.60) scale(1.080,1)" text-anchor="start" font-size="15.80">2</text>
<path d="M60.3 435.50 H77" stroke="#ff0000" stroke-width="1.3" fill="none"/>
<text transform="translate(81.20,437.80) skewX(-12) scale(0.88,1)" font-size="27">ξ</text>
<text transform="translate(95.00,436.70) scale(1.130,1)" text-anchor="start" font-size="23.20">=</text>
<text transform="translate(111.30,436.70) scale(1.020,1)" text-anchor="start" font-size="23.20">10</text>
<text transform="translate(136.00,429.10) scale(1.080,1)" text-anchor="start" font-size="15.80">3</text>
<text transform="translate(50.90,429.14) scale(1.080,1)" text-anchor="end" font-size="23.20">6</text>
<text transform="translate(50.90,370.32) scale(1.080,1)" text-anchor="end" font-size="23.20">8</text>
<text transform="translate(50.90,311.50) scale(1.080,1)" text-anchor="end" font-size="23.20">10</text>
<text transform="translate(50.90,252.68) scale(1.080,1)" text-anchor="end" font-size="23.20">12</text>
<text transform="translate(50.90,193.86) scale(1.080,1)" text-anchor="end" font-size="23.20">14</text>
<text transform="translate(50.90,135.04) scale(1.080,1)" text-anchor="end" font-size="23.20">16</text>
<text transform="translate(50.90,76.22) scale(1.080,1)" text-anchor="end" font-size="23.20">18</text>
<text transform="translate(50.90,17.40) scale(1.080,1)" text-anchor="end" font-size="23.20">20</text>
<text transform="translate(85.21,473.30) scale(1.080,1)" text-anchor="middle" font-size="23.20"><tspan>−</tspan><tspan dx="2.2">30</tspan></text>
<text transform="translate(144.62,473.30) scale(1.080,1)" text-anchor="middle" font-size="23.20"><tspan>−</tspan><tspan dx="2.2">25</tspan></text>
<text transform="translate(204.04,473.30) scale(1.080,1)" text-anchor="middle" font-size="23.20"><tspan>−</tspan><tspan dx="2.2">20</tspan></text>
<text transform="translate(263.45,473.30) scale(1.080,1)" text-anchor="middle" font-size="23.20"><tspan>−</tspan><tspan dx="2.2">15</tspan></text>
<text transform="translate(322.87,473.30) scale(1.080,1)" text-anchor="middle" font-size="23.20"><tspan>−</tspan><tspan dx="2.2">10</tspan></text>
<text transform="translate(382.29,473.30) scale(1.080,1)" text-anchor="middle" font-size="23.20"><tspan>−</tspan><tspan dx="2.2">5</tspan></text>
<text transform="translate(441.40,473.30) scale(1.080,1)" text-anchor="middle" font-size="23.20">0</text>
<text transform="translate(237.00,499.00) scale(1.000,1)" text-anchor="start" font-size="23.00"><tspan x="0 13.3 24.0">Log</tspan><tspan font-size="17" dy="4.8" x="35.2 43.7">10</tspan><tspan dy="-4.8" x="54.8 58.4 71.0">|g|</tspan></text>
<text transform="translate(18.1,231.6) rotate(-90)" text-anchor="middle" font-size="23.5">l</text>
</svg>
</body></html>
